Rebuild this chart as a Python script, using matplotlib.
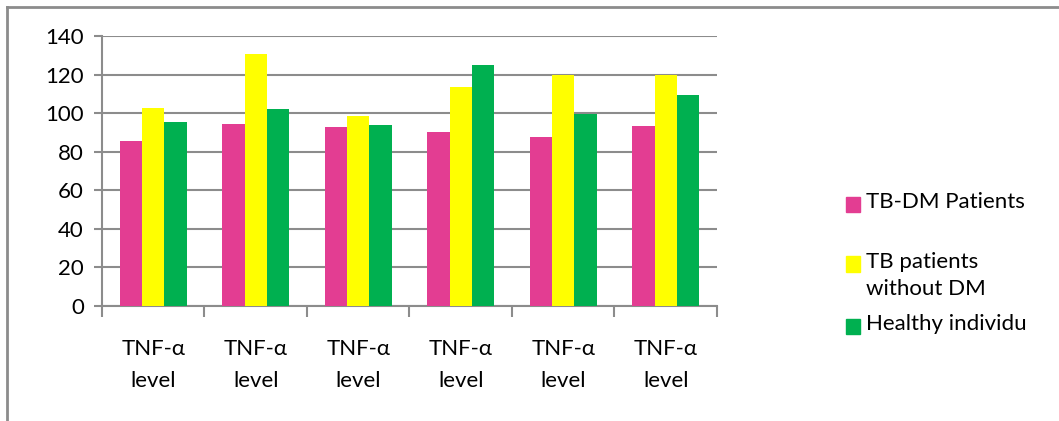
import matplotlib
matplotlib.use("Agg")
import numpy as np
import matplotlib.pyplot as plt
from matplotlib.lines import Line2D
from matplotlib.patches import Rectangle

categories = ["TNF-\u03b1\nlevel"] * 6
series_names = ["TB-DM Patients", "TB patients\nwithout DM", "Healthy individu"]
tbdm = [85.5, 94.5, 93, 90.2, 87.6, 93.5]
tb_no_dm = [102.8, 130.8, 98.7, 113.7, 120, 120]
healthy = [95.5, 102.2, 94, 125, 99.7, 109.6]
colors = ["#E33D92", "#FFFF00", "#00B050"]

plt.rcParams["font.family"] = ["Lato", "DejaVu Sans"]

fig = plt.figure(figsize=(10.59, 4.21), dpi=100)
ax = fig.add_axes([0.0963, 0.273, 0.5807, 0.6415])

x = np.arange(len(categories))
w = 0.218
for i, vals in enumerate([tbdm, tb_no_dm, healthy]):
    ax.bar(x + (i - 1) * w, vals, w, color=colors[i], zorder=3)

ax.set_xlim(-0.5, len(categories) - 0.5)
ax.set_ylim(0, 140)
ax.set_yticks(range(0, 141, 20))
ax.grid(axis="y", color="#8c8c8c", lw=1.5, zorder=0)
for s in ["top", "right"]:
    ax.spines[s].set_visible(False)
for s in ["left", "bottom"]:
    ax.spines[s].set_color("#8c8c8c")
    ax.spines[s].set_linewidth(1.5)

# category ticks sit between groups, labels at centres
ax.set_xticks(np.arange(-0.5, len(categories), 1.0))
ax.set_xticklabels([])
ax.set_xticks(x, minor=True)
ax.set_xticklabels(categories, minor=True, fontsize=16, linespacing=1.75)
ax.tick_params(axis="x", which="major", length=8, color="#8c8c8c", width=1.5)
ax.tick_params(axis="x", which="minor", length=0, pad=24)
ax.tick_params(axis="y", length=6, color="#8c8c8c", width=1.5, labelsize=16, pad=7)

# legend drawn by hand to match the spacing of the original
leg_y = [0.515, 0.373, 0.225]
for name, c, ly in zip(series_names, colors, leg_y):
    fig.add_artist(Rectangle((0.7985, ly - 0.018), 0.0135, 0.036,
                             transform=fig.transFigure, color=c))
    fig.text(0.818, ly + 0.028, name, fontsize=16, va="top", linespacing=1.4)

# outer chart frame
fig.add_artist(Line2D([0.0066, 1.0], [0.984, 0.984], color="#8c8c8c", lw=2))
fig.add_artist(Line2D([0.0066, 0.0066], [0.0, 0.984], color="#8c8c8c", lw=2))

plt.savefig("out.png")
plt.close()
